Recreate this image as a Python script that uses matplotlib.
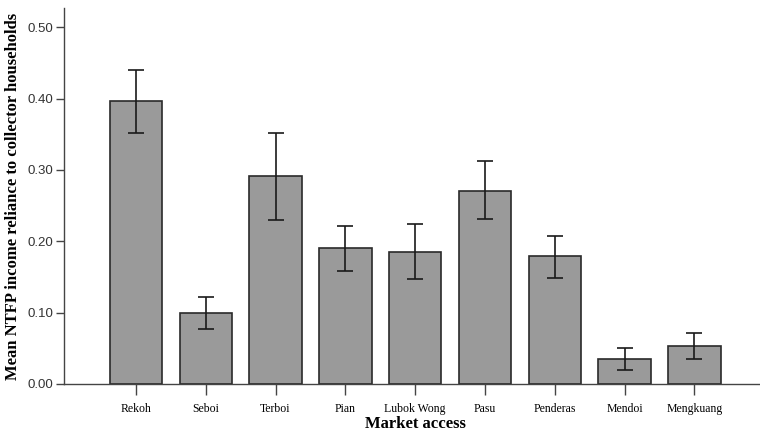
import matplotlib
matplotlib.use("Agg")
import matplotlib.pyplot as plt
import numpy as np

villages = ["Rekoh", "Seboi", "Terboi", "Pian", "Lubok Wong", "Pasu",
            "Penderas", "Mendoi", "Mengkuang"]
mean_reliance = [0.397, 0.100, 0.291, 0.190, 0.185, 0.271, 0.179, 0.035, 0.053]
err_upper = [0.043, 0.022, 0.061, 0.032, 0.039, 0.041, 0.029, 0.015, 0.019]
err_lower = [0.045, 0.023, 0.061, 0.032, 0.038, 0.040, 0.030, 0.015, 0.018]
yticks = [0.0, 0.1, 0.2, 0.3, 0.4, 0.5]

fig = plt.figure(figsize=(7.6, 4.38), dpi=100)
ax = fig.add_axes([64 / 760, 54 / 438, 1 - 64 / 760, 376 / 438])

x = np.arange(len(villages))
ax.bar(x, mean_reliance, width=0.75, color="#9a9a9a", edgecolor="#2a2a2a",
       linewidth=1.2, zorder=2)
ax.errorbar(x, mean_reliance, yerr=[err_lower, err_upper], fmt="none",
            ecolor="#1a1a1a", elinewidth=1.2, capsize=5.5, capthick=1.2, zorder=3)

ax.set_xlim(-1.03, 8.94)
ax.set_ylim(0, 0.527)
ax.set_yticks(yticks)
ax.set_yticklabels([f"{v:.2f}" for v in yticks], fontsize=9.5,
                   family="Liberation Sans", color="#333333")
ax.set_xticks(x)
ax.set_xticklabels(villages, fontsize=8.5, family="Liberation Serif")

for s in ["top", "right"]:
    ax.spines[s].set_visible(False)
for s in ["left", "bottom"]:
    ax.spines[s].set_color("#444444")
    ax.spines[s].set_linewidth(1.0)

ax.tick_params(axis="y", direction="out", length=6, width=1.0, color="#444444", pad=2)
ax.tick_params(axis="x", direction="out", length=8, width=1.0, color="#444444", pad=6)

ax.set_ylabel("Mean NTFP income reliance to collector households",
              family="Liberation Serif", fontweight="bold", fontsize=12, labelpad=4)
ax.set_xlabel("Market access", family="Liberation Serif", fontweight="bold",
              fontsize=12, labelpad=2)
ax.xaxis.set_label_coords((415 - 64) / (760 - 64), -0.085)

fig.savefig("out.png", dpi=100)
